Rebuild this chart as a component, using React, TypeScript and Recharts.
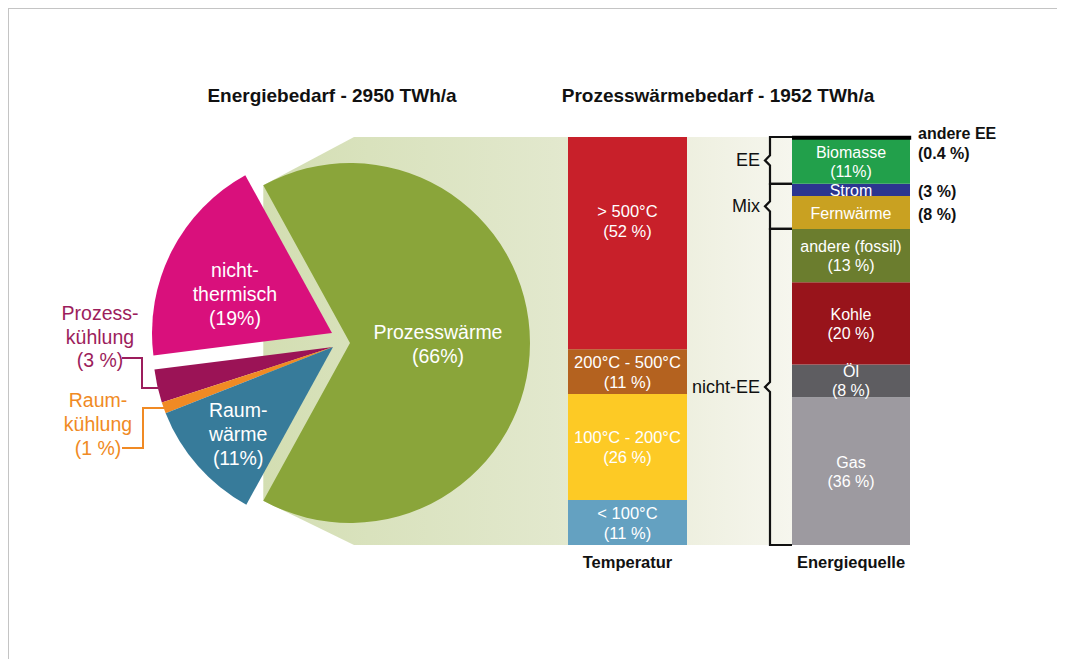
import { Bar, BarChart, Cell, Pie, PieChart, XAxis, YAxis } from "recharts";

const FONT = '"Liberation Sans", Arial, Helvetica, sans-serif';

// Energiebedarf - 2950 TWh/a (pie)
const bedarfNames = ["Prozesswärme", "nicht-thermisch", "Prozesskühlung", "Raumkühlung", "Raumwärme"];
const bedarfValues = [66, 19, 3, 1, 11];
const bedarfColors = ["#8aa53a", "#d9107c", "#9b1356", "#f08a24", "#377b9a"];
const bedarfLines = [
  ["Prozesswärme", "(66%)"],
  ["nicht-", "thermisch", "(19%)"],
  ["Prozess-", "kühlung", "(3 %)"],
  ["Raum-", "kühlung", "(1 %)"],
  ["Raum-", "wärme", "(11%)"],
];
const bedarfInside = [true, true, false, false, true];

// Prozesswärmebedarf nach Temperatur
const tempNames = ["> 500°C", "200°C - 500°C", "100°C - 200°C", "< 100°C"];
const tempValues = [52, 11, 26, 11];
const tempColors = ["#c8202a", "#b4621f", "#fdca25", "#64a1c1"];

// Prozesswärmebedarf nach Energiequelle
const quelleNames = ["andere EE", "Biomasse", "Strom", "Fernwärme", "andere (fossil)", "Kohle", "Öl", "Gas"];
const quelleValues = [0.4, 11, 3, 8, 13, 20, 8, 36];
const quelleColors = ["#000000", "#22a04b", "#2c3590", "#c9a121", "#6b7d2e", "#98141b", "#5e5d61", "#9d9aa0"];
const quelleInner = [
  [],
  ["Biomasse", "(11%)"],
  ["Strom"],
  ["Fernwärme"],
  ["andere (fossil)", "(13 %)"],
  ["Kohle", "(20 %)"],
  ["Öl", "(8 %)"],
  ["Gas", "(36 %)"],
];
const quelleOuter = [["andere EE", "(0.4 %)"], [], ["(3 %)"], ["(8 %)"], [], [], [], []];
const quelleGroups = ["EE", "Mix", "nicht-EE"];
const quelleGroupOf = [0, 0, 1, 1, 2, 2, 2, 2];

const W = 1057;
const H = 651;
const R = 180;
const BAR_TOP = 129;
const BAR_H = 408;
const TOP_PAD = 30;

// exploded pie: each group has its own centre
const pieGroups = [
  { idx: [0], cx: 342, cy: 335, labelR: 88, shift: 0 },
  { idx: [1], cx: 324, cy: 325, labelR: 105, shift: 4.6 },
  { idx: [2, 3, 4], cx: 325, cy: 339, labelR: 128, shift: 0.8 },
];

const bedarfTotal = bedarfValues.reduce((a, b) => a + b, 0);
const DEG = 360 / bedarfTotal;
const ANGLE0 = (-bedarfValues[0] * DEG) / 2;

function groupAngles(idx: number[]) {
  const before = bedarfValues.slice(0, idx[0]).reduce((a, b) => a + b, 0);
  const own = idx.reduce((s, i) => s + bedarfValues[i], 0);
  const start = ANGLE0 + before * DEG;
  return { start, end: start + own * DEG };
}

function MultiLine({ x, y, lines, lh, size, fill, weight, anchor = "middle" }: any) {
  return (
    <text x={x} y={y} fill={fill} fontSize={size} fontWeight={weight} fontFamily={FONT} textAnchor={anchor}>
      {lines.map((l: string, k: number) => (
        <tspan key={k} x={x} dy={k === 0 ? 0 : lh}>
          {l}
        </tspan>
      ))}
    </text>
  );
}

const pieLabel = (g: (typeof pieGroups)[number]) => (props: any) => {
  const i = g.idx[props.index];
  if (!bedarfInside[i]) return null;
  const a = ((props.midAngle + g.shift) * Math.PI) / 180;
  const x = Number(props.cx) + g.labelR * Math.cos(a);
  const y = Number(props.cy) - g.labelR * Math.sin(a);
  const lines = bedarfLines[i];
  const lh = 24;
  return <MultiLine x={x} y={y - ((lines.length - 1) * lh) / 2 + 8} lines={lines} lh={lh} size={19.5} fill="#fff" />;
};

const tempLabel = (i: number) => (p: any) => {
  const x = Number(p.x), y = Number(p.y), w = Number(p.width), h = Number(p.height);
  const cy = y + Math.min(h / 2, 84);
  const lines = [tempNames[i], `(${tempValues[i]} %)`];
  return <MultiLine x={x + w / 2} y={cy - 10 + 6} lines={lines} lh={20} size={16.5} fill="#fff" />;
};

const quelleLabel = (i: number) => (p: any) => {
  const x = Number(p.x), y = Number(p.y), w = Number(p.width), h = Number(p.height);
  const inner = quelleInner[i];
  const outer = quelleOuter[i];
  const lh = 19;
  return (
    <g>
      {inner.length > 0 && (
        <MultiLine x={x + w / 2} y={y + h / 2 - ((inner.length - 1) * lh) / 2 + 6} lines={inner} lh={lh} size={16} fill="#fff" />
      )}
      {outer.length > 0 && (
        <MultiLine
          x={x + w + 8}
          y={outer.length > 1 ? y + 2 : y + h / 2 + 7}
          lines={outer}
          lh={20}
          size={16}
          weight="bold"
          fill="#111"
          anchor="start"
        />
      )}
    </g>
  );
};

function AxisTick({ x, y, payload }: any) {
  return (
    <text x={x} y={Number(y) + 23} textAnchor="middle" fontSize={16.5} fontWeight="bold" fontFamily={FONT} fill="#111">
      {payload.value}
    </text>
  );
}

const tempRow: Record<string, any> = { name: "Temperatur" };
tempValues.forEach((v, i) => (tempRow["t" + i] = v));
const quelleRow: Record<string, any> = { name: "Energiequelle" };
quelleValues.forEach((v, i) => (quelleRow["q" + i] = v));
const quelleTotal = quelleValues.reduce((a, b) => a + b, 0);

function Brackets() {
  const bx = 762;
  const ex = 784;
  const yOf = (c: number) => BAR_TOP + (c / quelleTotal) * BAR_H;
  let cum = 0;
  const spans = quelleGroups.map((_, g) => {
    const vals = quelleValues.filter((_, i) => quelleGroupOf[i] === g);
    const s = vals.reduce((a, b) => a + b, 0);
    const y1 = yOf(cum);
    cum += s;
    return { y1, y2: yOf(cum) };
  });
  return (
    <g>
      {spans.map(({ y1, y2 }, g) => {
        const m = (y1 + y2) / 2;
        return (
          <g key={g}>
            <path
              d={`M${ex} ${y1} H${bx} V${m - 5} L${bx - 5} ${m} L${bx} ${m + 5} V${y2} H${ex}`}
              fill="none"
              stroke="#111"
              strokeWidth={2.2}
            />
            <text x={bx - 10} y={m + 6} textAnchor="end" fontSize={18} fontFamily={FONT} fill="#111">
              {quelleGroups[g]}
            </text>
          </g>
        );
      })}
    </g>
  );
}

export default function App() {
  const a = (ANGLE0 * Math.PI) / 180;
  const g0 = pieGroups[0];
  const gx = g0.cx + R * Math.cos(a);
  const gyTop = g0.cy + R * Math.sin(a);
  const gyBot = g0.cy - R * Math.sin(a);
  const poly = `${gx},${gyTop} 346,${BAR_TOP} 784,${BAR_TOP} 784,${BAR_TOP + BAR_H} 346,${BAR_TOP + BAR_H} ${gx},${gyBot}`;

  return (
    <div style={{ position: "relative", width: W, height: H, overflow: "hidden", fontFamily: FONT, background: "#fff" }}>
      <style>{`html{overflow:hidden}`}</style>
      <div
        style={{
          position: "absolute",
          inset: 0,
          borderTop: "1px solid #c4c4c4",
          borderLeft: "1px solid #c4c4c4",
          boxSizing: "border-box",
        }}
      />
      <svg width={W} height={H} style={{ position: "absolute", left: 0, top: 0 }}>
        <defs>
          <linearGradient id="funnel" gradientUnits="userSpaceOnUse" x1={gx} y1={0} x2={784} y2={0}>
            <stop offset="0" stopColor="#d3deb2" />
            <stop offset="0.2" stopColor="#d9e2bd" />
            <stop offset="0.55" stopColor="#e2e8cd" />
            <stop offset="0.85" stopColor="#f0f1e3" />
            <stop offset="1" stopColor="#f6f6ee" />
          </linearGradient>
        </defs>
        <polygon points={poly} fill="url(#funnel)" />
      </svg>

      <div style={{ position: "absolute", left: 0, top: 0 }}>
        <PieChart width={W} height={H} margin={{ top: 0, right: 0, bottom: 0, left: 0 }}>
          {pieGroups.map((g, k) => {
            const { start, end } = groupAngles(g.idx);
            return (
              <Pie
                key={k}
                data={g.idx.map((i) => ({ name: bedarfNames[i], value: bedarfValues[i] }))}
                dataKey="value"
                cx={g.cx}
                cy={g.cy}
                innerRadius={0}
                outerRadius={R}
                startAngle={start}
                endAngle={end}
                stroke="none"
                labelLine={false}
                label={pieLabel(g)}
                isAnimationActive={false}
              >
                {g.idx.map((i) => (
                  <Cell key={i} fill={bedarfColors[i]} />
                ))}
              </Pie>
            );
          })}
        </PieChart>
      </div>

      <div style={{ position: "absolute", left: 560, top: BAR_TOP }}>
        <BarChart width={119} height={BAR_H + 40} data={[tempRow]} margin={{ top: 0, right: 0, bottom: 0, left: 0 }} barCategoryGap={0}>
          <XAxis dataKey="name" axisLine={false} tickLine={false} tickSize={0} tickMargin={0} height={40} tick={<AxisTick />} />
          <YAxis hide domain={[0, 100]} />
          {tempValues
            .map((_, i) => i)
            .reverse()
            .map((i) => (
              <Bar key={i} dataKey={"t" + i} stackId="t" fill={tempColors[i]} label={tempLabel(i)} isAnimationActive={false} />
            ))}
        </BarChart>
      </div>

      <div style={{ position: "absolute", left: 784, top: BAR_TOP - TOP_PAD }}>
        <BarChart
          width={118 + 120}
          height={BAR_H + 40 + TOP_PAD}
          data={[quelleRow]}
          margin={{ top: TOP_PAD, right: 120, bottom: 0, left: 0 }}
          barCategoryGap={0}
        >
          <XAxis dataKey="name" axisLine={false} tickLine={false} tickSize={0} tickMargin={0} height={40} tick={<AxisTick />} />
          <YAxis hide domain={[0, quelleTotal]} />
          {quelleValues
            .map((_, i) => i)
            .reverse()
            .map((i) => (
              <Bar
                key={i}
                dataKey={"q" + i}
                stackId="q"
                fill={quelleColors[i]}
                stroke={i === 0 ? "#000" : "none"}
                strokeWidth={i === 0 ? 2.4 : 0}
                label={quelleLabel(i)}
                isAnimationActive={false}
              />
            ))}
        </BarChart>
      </div>

      <svg width={W} height={H} style={{ position: "absolute", left: 0, top: 0, pointerEvents: "none" }}>
        <text x={324} y={94} textAnchor="middle" fontSize={19} fontWeight="bold" fontFamily={FONT} fill="#111">
          Energiebedarf - 2950 TWh/a
        </text>
        <text x={710} y={94} textAnchor="middle" fontSize={19} fontWeight="bold" fontFamily={FONT} fill="#111">
          Prozesswärmebedarf - 1952 TWh/a
        </text>

        <MultiLine x={92} y={312} lines={bedarfLines[2]} lh={23.5} size={19.5} fill="#9c1d5c" />
        <polyline points="114,350 134,350 134,380 152,380" fill="none" stroke="#9c1d5c" strokeWidth={2} />
        <MultiLine x={90} y={399} lines={bedarfLines[3]} lh={24} size={19.5} fill="#f08a24" />
        <polyline points="114,440 135,440 135,400 157,400" fill="none" stroke="#f08a24" strokeWidth={2} />

        <Brackets />
      </svg>
    </div>
  );
}
